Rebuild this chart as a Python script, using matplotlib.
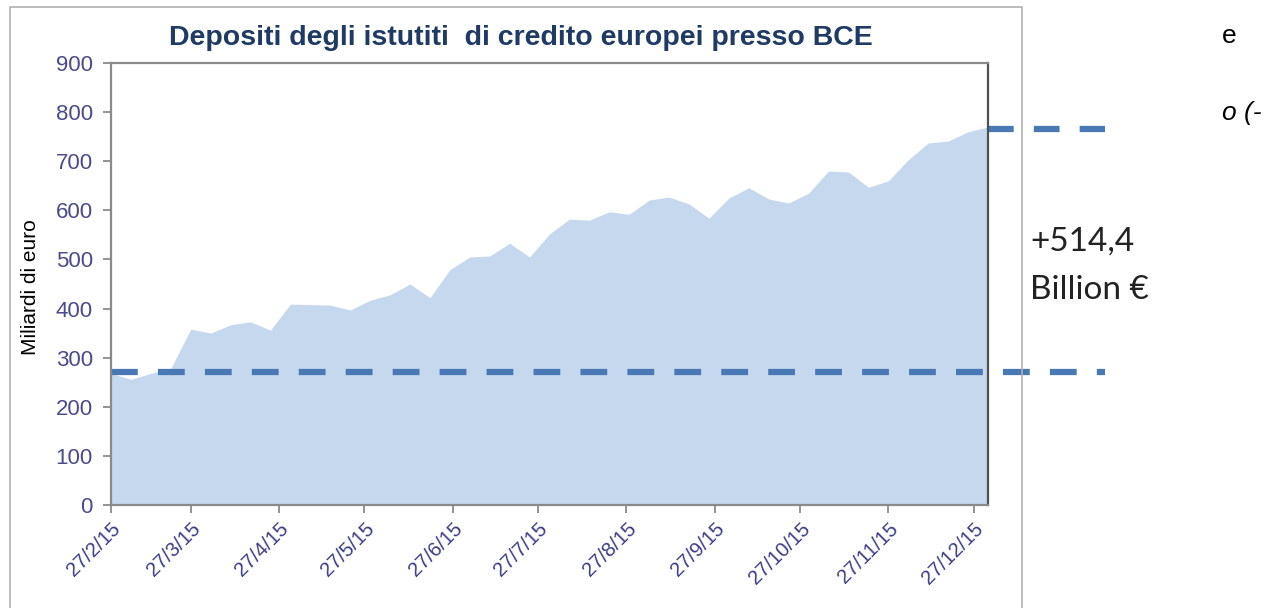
import matplotlib
matplotlib.use("Agg")
import matplotlib.pyplot as plt
from matplotlib.patches import Rectangle
import pandas as pd

plt.rcParams['lines.scale_dashes'] = False

# ---- data ----
start_date = "2015-02-27"
deposits = [268, 256, 268, 278, 358, 350, 367, 373, 356, 409,
            408, 407, 397, 417, 428, 450, 422, 479, 505, 507,
            533, 505, 552, 582, 580, 597, 592, 621, 627, 613,
            584, 625, 646, 623, 615, 635, 680, 678, 647, 660,
            703, 737, 741, 760, 770]
tick_dates = ["2015-02-27", "2015-03-27", "2015-04-27", "2015-05-27", "2015-06-27",
              "2015-07-27", "2015-08-27", "2015-09-27", "2015-10-27", "2015-11-27",
              "2015-12-27"]
tick_labels = ["27/2/15", "27/3/15", "27/4/15", "27/5/15", "27/6/15", "27/7/15",
               "27/8/15", "27/9/15", "27/10/15", "27/11/15", "27/12/15"]
y_ticks = [0, 100, 200, 300, 400, 500, 600, 700, 800, 900]
level_start = 270
level_end = 765
title = "Depositi degli istutiti  di credito europei presso BCE"
ylabel = "Miliardi di euro"
annotation_1 = "+514,4"
annotation_2 = "Billion €"

dates = pd.date_range(start_date, periods=len(deposits), freq="7D")
xmin = dates[0]
xmax = dates[-1]
line_end = pd.Timestamp("2016-02-11")

W, H = 1282, 608
fig = plt.figure(figsize=(W / 100, H / 100), dpi=100)
fig.patch.set_facecolor("white")

# Excel chart-area frame
fig.patches.append(Rectangle((10 / W, -0.05), (1022 - 10) / W, 1.05 - 7 / H,
                             transform=fig.transFigure, fill=False,
                             edgecolor="#b0b0b0", linewidth=1.2))

ax = fig.add_axes([111 / W, 1 - 505 / H, (988 - 111) / W, (505 - 63) / H])
ax.fill_between(dates, deposits, 0, color="#c6d8ee", linewidth=0)
ax.set_xlim(xmin, xmax)
ax.set_ylim(0, 900)

dash_color = "#4a78b5"
ax.plot([xmin, line_end], [level_start, level_start], color=dash_color,
        linewidth=4.5, dashes=(19.3, 14.5), clip_on=False, dash_capstyle="butt")
ax.plot([xmax, line_end], [level_end, level_end], color=dash_color,
        linewidth=4.5, dashes=(18.5, 14.5), clip_on=False, dash_capstyle="butt")

ax.set_yticks(y_ticks)
ax.set_yticklabels([str(v) for v in y_ticks])
ax.set_xticks(pd.to_datetime(tick_dates))
ax.set_xticklabels(tick_labels, rotation=45, ha="right", va="top",
                   rotation_mode="anchor")

ax.tick_params(axis="y", direction="out", length=6, width=1.2, color="#808080",
               labelcolor="#4a4a8c", labelsize=16, pad=7)
ax.tick_params(axis="x", direction="out", length=6, width=1.2, color="#808080",
               labelcolor="#3c3c8a", labelsize=14.5, pad=4)
for lab in ax.get_yticklabels() + ax.get_xticklabels():
    lab.set_family("Liberation Sans")

for side in ["left", "bottom", "top"]:
    ax.spines[side].set_color("#8a8a8a")
    ax.spines[side].set_linewidth(1.6)
ax.spines["right"].set_color("#505050")
ax.spines["right"].set_linewidth(1.6)

fig.text(521 / W, 1 - 38 / H, title, ha="center", va="center",
         fontsize=20.5, fontweight="bold", color="#1f3a64", family="Liberation Sans")
fig.text(30 / W, 1 - 287 / H, ylabel, ha="center", va="center", rotation=90,
         fontsize=15, color="black", family="Liberation Sans")
fig.text(1030 / W, 1 - 242 / H, annotation_1, ha="left", va="center",
         fontsize=24, color="#222222", family="Lato")
fig.text(1030 / W, 1 - 290 / H, annotation_2, ha="left", va="center",
         fontsize=24, color="#222222", family="Lato")

# surrounding page text fragments
fig.text(1222 / W, 1 - 36 / H, "e", ha="left", va="center", fontsize=19,
         color="black", family="Liberation Sans")
fig.text(1222 / W, 1 - 113 / H, "o (-", ha="left", va="center", fontsize=19,
         color="black", family="Liberation Sans", style="italic")

fig.savefig("out.png", dpi=100)
